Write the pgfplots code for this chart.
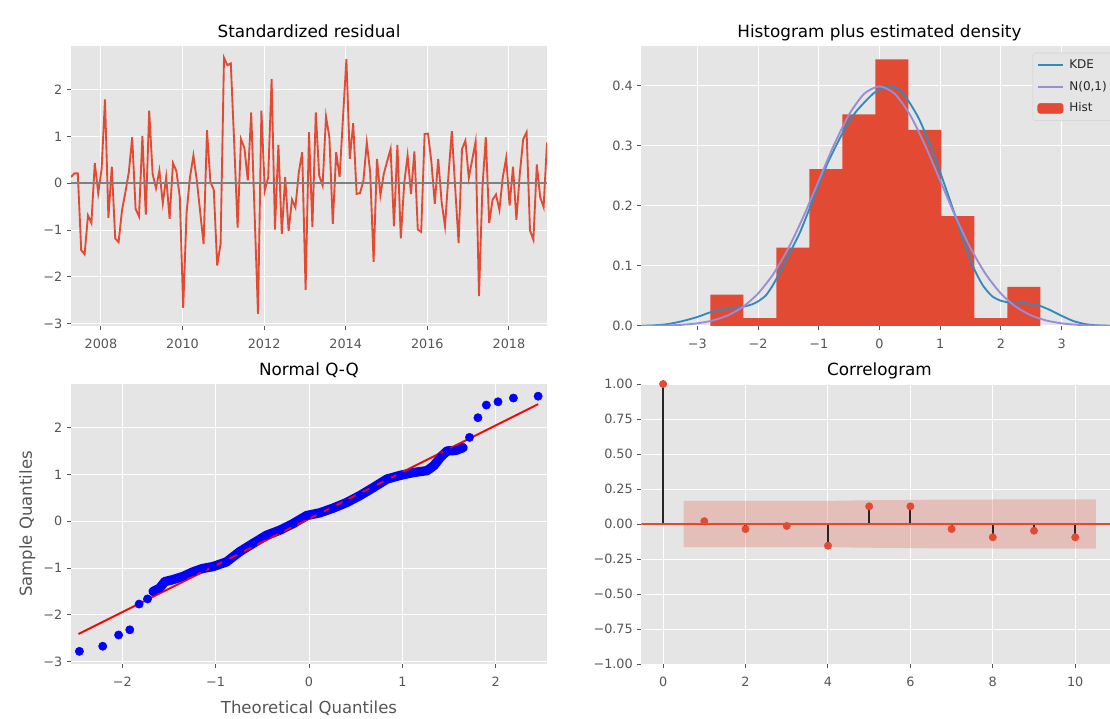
\documentclass[border=0pt]{standalone}
\usepackage{pgfplots}
\pgfplotsset{compat=1.18}
\usepackage{fontspec}
\setmainfont{DejaVu Sans}
\definecolor{bgc}{HTML}{E5E5E5}
\definecolor{tickc}{HTML}{555555}
\definecolor{mred}{HTML}{E24A33}
\definecolor{mblue}{HTML}{348ABD}
\definecolor{mpurple}{HTML}{988ED5}
\definecolor{qqblue}{HTML}{0000FF}
\definecolor{qqred}{HTML}{FF0000}
\pgfplotsset{
  gg/.style={
    scale only axis, width=357pt, height=210pt, anchor=south west,
    axis background/.style={fill=bgc},
    axis line style={draw=none},
    grid=major, major grid style={white, line width=0.75pt},
    tick align=outside, major tick length=3pt,
    tick style={tickc, line width=0.75pt},
    xtick pos=bottom, ytick pos=left,
    ticklabel style={font=\fontsize{9.6}{11}\selectfont, text=tickc},
    xticklabel style={yshift=-3.5pt},
    title style={font=\fontsize{12.6}{15}\selectfont, at={(0.5,1)}, anchor=base, yshift=0.5pt},
    label style={font=\fontsize{12.4}{15}\selectfont, text=tickc},
    /pgf/number format/assume math mode=true,
  }
}
\begin{document}
\begin{tikzpicture}
\path[use as bounding box, clip] (0,0) rectangle (832.5pt,538.5pt);
% ---------------- Standardized residual
\begin{axis}[gg, at={(53.25pt,294pt)},
  title={Standardized residual},
  xmin=0, xmax=140, ymin=-3.05, ymax=2.93,
  xtick={8.8,32.8,56.8,80.8,104.8,128.8},
  xticklabels={2008,2010,2012,2014,2016,2018},
  ytick={-3,-2,-1,0,1,2},
  yticklabels={−3,−2,−1,0,1,2}]
\addplot[mred, line width=1.4pt] coordinates {
(0,0.13) (1,0.21) (2,0.21) (3,-1.43) (4,-1.52) (5,-0.69) (6,-0.85) (7,0.43) (8,-0.21) (9,0.30)
(10,1.79) (11,-0.74) (12,0.35) (13,-1.18) (14,-1.26) (15,-0.58) (16,-0.19) (17,0.23) (18,0.98) (19,-0.55)
(20,-0.71) (21,1.01) (22,-0.67) (23,1.55) (24,0.20) (25,-0.11) (26,0.27) (27,-0.43) (28,0.13) (29,-0.76)
(30,0.43) (31,0.26) (32,-0.30) (33,-2.66) (34,-0.62) (35,0.13) (36,0.59) (37,0.06) (38,-0.62) (39,-1.30)
(40,1.13) (41,0.02) (42,-0.14) (43,-1.76) (44,-1.29) (45,2.68) (46,2.52) (47,2.56) (48,0.85) (49,-0.95)
(50,0.94) (51,0.75) (52,0.06) (53,1.51) (54,-0.65) (55,-2.79) (56,1.55) (57,-0.16) (58,0.13) (59,2.22)
(60,-0.99) (61,0.82) (62,-1.08) (63,0.13) (64,-1.02) (65,-0.35) (66,-0.52) (67,0.23) (68,0.66) (69,-2.28)
(70,1.09) (71,-0.94) (72,1.51) (73,0.16) (74,-0.05) (75,1.42) (76,0.98) (77,-0.87) (78,0.66) (79,0.13)
(80,1.40) (81,2.65) (82,0.52) (83,1.28) (84,-0.23) (85,-0.21) (86,0.05) (87,0.87) (88,0.23) (89,-1.68)
(90,0.52) (91,-0.26) (92,0.20) (93,0.47) (94,0.73) (95,-0.92) (96,0.82) (97,-1.18) (98,-0.01) (99,0.59)
(100,-0.23) (101,0.68) (102,-0.99) (103,-1.04) (104,1.05) (105,1.06) (106,0.45) (107,-0.44) (108,0.52) (109,-0.40)
(110,-0.92) (111,0.15) (112,1.11) (113,-0.10) (114,-1.28) (115,0.73) (116,0.91) (117,0.11) (118,0.50) (119,0.89)
(120,-2.41) (121,-0.10) (122,0.98) (123,-0.85) (124,-0.35) (125,-0.24) (126,-0.57) (127,0.13) (128,0.54) (129,-0.48)
(130,0.35) (131,-0.78) (132,0.20) (133,0.94) (134,1.09) (135,-1.01) (136,-1.21) (137,0.40) (138,-0.30) (139,-0.51)
(140,0.87)};
\addplot[black!50, line width=1.8pt] coordinates {(0,0) (140,0)};
\end{axis}
% ---------------- Histogram
\begin{axis}[gg, at={(481.1pt,294pt)},
  title={Histogram plus estimated density},
  xmin=-3.92, xmax=3.92, ymin=0, ymax=0.466,
  xtick={-3,-2,-1,0,1,2,3},
  xticklabels={−3,−2,−1,0,1,2,3},
  ytick={0,0.1,0.2,0.3,0.4},
  yticklabels={0.0,0.1,0.2,0.3,0.4},
  legend image code/.code={\draw[#1] (0pt,0pt) -- (19pt,0pt);},
  legend cell align=left,
  legend style={at={(0.8216,0.976)}, anchor=north west, fill=bgc, draw=black!18,
    rounded corners=2pt, font=\fontsize{9}{10}\selectfont, text=black!85,
    row sep=4pt, inner xsep=3pt, inner ysep=3pt,
    nodes={inner xsep=4pt}}]
\addplot[forget plot, fill=mred, draw=none, const plot mark left] coordinates {
(-2.785,0.0522) (-2.2415,0.01305) (-1.698,0.1305) (-1.1545,0.261) (-0.611,0.3523)
(-0.0675,0.4437) (0.476,0.3262) (1.0195,0.1827) (1.563,0.01305) (2.1065,0.0652) (2.65,0.0652)} \closedcycle;
\addplot[mblue, line width=1.4pt, smooth, tension=0.4] coordinates {
(-3.92,0.0003) (-3.75,0.0008) (-3.5,0.003) (-3.25,0.008) (-3.0,0.015) (-2.75,0.024) (-2.5,0.029)
(-2.25,0.032) (-2.1,0.036) (-2.0,0.041) (-1.87,0.051) (-1.75,0.069) (-1.6,0.097) (-1.45,0.127)
(-1.3,0.158) (-1.15,0.196) (-1.0,0.236) (-0.85,0.272) (-0.7,0.303) (-0.55,0.332) (-0.4,0.355)
(-0.25,0.372) (-0.1,0.387) (0.05,0.396) (0.2,0.399) (0.35,0.391) (0.5,0.371) (0.65,0.345)
(0.8,0.31) (0.95,0.27) (1.1,0.227) (1.25,0.183) (1.4,0.138) (1.55,0.097) (1.7,0.068) (1.85,0.05)
(2.0,0.042) (2.2,0.038) (2.4,0.038) (2.6,0.035) (2.8,0.027) (3.0,0.017) (3.2,0.008) (3.4,0.003)
(3.6,0.001) (3.92,0.0001)};
\addlegendentry{KDE}
\addplot[mpurple, line width=1.4pt, smooth, tension=0.4] coordinates {
(-3.92,0.00019) (-3.75,0.00035) (-3.5,0.00087) (-3.25,0.00203) (-3.0,0.00443) (-2.75,0.00909)
(-2.5,0.01753) (-2.25,0.03174) (-2.0,0.05399) (-1.75,0.08628) (-1.5,0.12952) (-1.25,0.18265)
(-1.0,0.24197) (-0.75,0.30114) (-0.5,0.35207) (-0.25,0.38667) (0,0.39894) (0.25,0.38667)
(0.5,0.35207) (0.75,0.30114) (1.0,0.24197) (1.25,0.18265) (1.5,0.12952) (1.75,0.08628)
(2.0,0.05399) (2.25,0.03174) (2.5,0.01753) (2.75,0.00909) (3.0,0.00443) (3.25,0.00203)
(3.5,0.00087) (3.75,0.00035) (3.92,0.00019)};
\addlegendentry{N(0,1)}
\addlegendimage{legend image code/.code={\fill[mred] (0pt,-3.75pt) rectangle (19pt,3.75pt);}}
\addlegendentry{Hist}
\end{axis}
% ---------------- Normal Q-Q
\begin{axis}[gg, at={(53.25pt,40.5pt)},
  title={Normal Q-Q},
  xmin=-2.55, xmax=2.55, ymin=-3.05, ymax=2.93,
  xtick={-2,-1,0,1,2}, xticklabels={−2,−1,0,1,2},
  ytick={-3,-2,-1,0,1,2}, yticklabels={−3,−2,−1,0,1,2},
  xlabel={Theoretical Quantiles}, ylabel={Sample Quantiles},
  xlabel style={at={(axis description cs:0.5,-0.157)}, anchor=center},
  ylabel style={at={(axis description cs:-0.092,0.5)}, anchor=center}]
\addplot[qqblue, line width=7pt, line join=round, line cap=round] coordinates {
(-1.67,-1.50) (-1.60,-1.43) (-1.545,-1.29) (-1.46,-1.25) (-1.35,-1.18) (-1.24,-1.08) (-1.14,-1.01)
(-1.03,-0.97) (-0.885,-0.87) (-0.742,-0.65) (-0.60,-0.475) (-0.455,-0.30) (-0.31,-0.19) (-0.17,-0.05)
(-0.025,0.12) (0.118,0.18) (0.26,0.28) (0.405,0.40) (0.548,0.55) (0.69,0.72) (0.835,0.90) (0.98,0.98)
(1.12,1.04) (1.265,1.08) (1.34,1.19) (1.41,1.37) (1.48,1.50) (1.57,1.51) (1.65,1.57)};
\addplot[only marks, mark=*, mark size=3.1pt, qqblue] coordinates {
(-2.46,-2.78) (-2.21,-2.67) (-2.04,-2.43) (-1.92,-2.32) (-1.82,-1.77) (-1.73,-1.66)
(-1.67,-1.50) (-1.60,-1.43) (-1.545,-1.29) (-1.46,-1.25) (-1.35,-1.18) (-1.24,-1.08) (-1.14,-1.01)
(-1.03,-0.97) (-0.885,-0.87) (-0.742,-0.65) (-0.60,-0.475) (-0.455,-0.30) (-0.31,-0.19) (-0.17,-0.05)
(-0.025,0.12) (0.118,0.18) (0.26,0.28) (0.405,0.40) (0.548,0.55) (0.69,0.72) (0.835,0.90) (0.98,0.98)
(1.12,1.04) (1.265,1.08) (1.34,1.19) (1.41,1.37) (1.48,1.50) (1.57,1.51) (1.65,1.57)
(1.72,1.79) (1.81,2.21) (1.90,2.48) (2.025,2.55) (2.19,2.63) (2.455,2.67)};
\addplot[qqred, line width=1.4pt] coordinates {(-2.47,-2.41) (2.455,2.50)};
\end{axis}
% ---------------- Correlogram
\begin{axis}[gg, at={(481.1pt,40.5pt)},
  title={Correlogram},
  xmin=-0.525, xmax=11.025, ymin=-1, ymax=1,
  xtick={0,2,4,6,8,10},
  ytick={-1,-0.75,-0.5,-0.25,0,0.25,0.5,0.75,1},
  yticklabels={−1.00,−0.75,−0.50,−0.25,0.00,0.25,0.50,0.75,1.00}]
\addplot[fill=mred, fill opacity=0.25, draw=none] coordinates {
(0.5,0.165) (2,0.165) (3,0.1653) (4,0.1653) (5,0.1695) (6,0.172) (7,0.1746) (8,0.175) (9,0.1763) (10.5,0.1766)
(10.5,-0.1766) (9,-0.1763) (8,-0.175) (7,-0.1746) (6,-0.172) (5,-0.1695) (4,-0.1653) (3,-0.1653) (2,-0.165) (0.5,-0.165)};
\addplot[ycomb, black!85, line width=1.6pt] coordinates {
(0,1) (1,0.02) (2,-0.036) (3,-0.014) (4,-0.155) (5,0.126) (6,0.126) (7,-0.036) (8,-0.095) (9,-0.048) (10,-0.095)};
\addplot[mred, line width=2pt] coordinates {(-0.525,0) (11.025,0)};
\addplot[only marks, mark=*, mark size=2.75pt, mred] coordinates {
(0,1) (1,0.02) (2,-0.036) (3,-0.014) (4,-0.155) (5,0.126) (6,0.126) (7,-0.036) (8,-0.095) (9,-0.048) (10,-0.095)};
\end{axis}
\end{tikzpicture}
\end{document}
